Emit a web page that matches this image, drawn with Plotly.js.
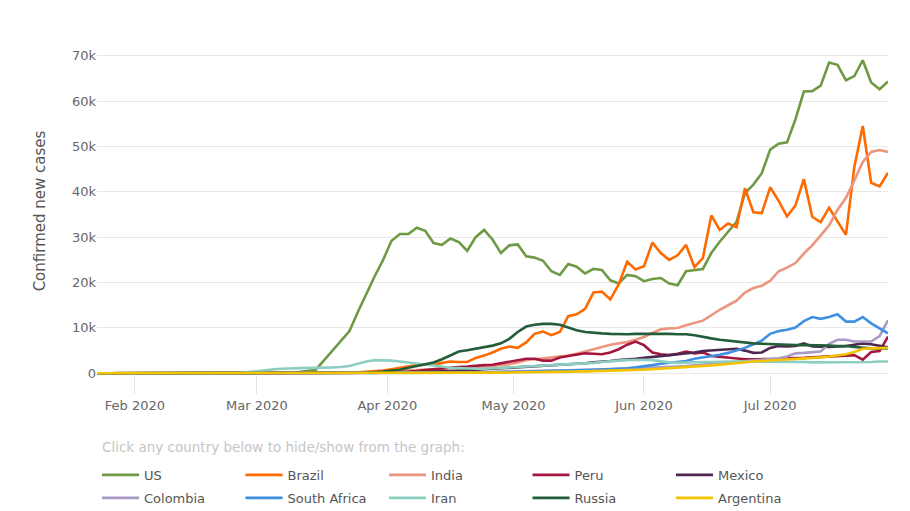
<!DOCTYPE html>
<html>
<head>
<meta charset="utf-8">
<script src="https://cdn.plot.ly/plotly-3.0.1.min.js"></script>
<style>
  html, body { margin: 0; padding: 0; background: #fff; }
  #chart { width: 910px; height: 511px; }
</style>
</head>
<body>
<div id="chart"></div>
<script>
// Dates (every 2nd day, 2020)
const dates = [
  '01-23','01-25','01-27','01-29','01-31','02-02','02-04','02-06','02-08','02-10',
  '02-12','02-14','02-16','02-18','02-20','02-22','02-24','02-26','02-28','03-01',
  '03-03','03-05','03-07','03-09','03-11','03-13','03-15','03-17','03-19','03-21',
  '03-23','03-25','03-27','03-29','03-31','04-02','04-04','04-06','04-08','04-10',
  '04-12','04-14','04-16','04-18','04-20','04-22','04-24','04-26','04-28','04-30',
  '05-02','05-04','05-06','05-08','05-10','05-12','05-14','05-16','05-18','05-20',
  '05-22','05-24','05-26','05-28','05-30','06-01','06-03','06-05','06-07','06-09',
  '06-11','06-13','06-15','06-17','06-19','06-21','06-23','06-25','06-27','06-29',
  '07-01','07-03','07-05','07-07','07-09','07-11','07-13','07-15','07-17','07-19',
  '07-21','07-23','07-25','07-27','07-29'
].map(d => '2020-' + d);

// Confirmed new cases, in thousands
const us = [
  0,0,0,0,0,0,0,0,0,0,
  0,0,0,0,0,0,0,0,0,0.01,
  0.03,0.05,0.1,0.15,0.3,0.5,0.8,2.9,5.1,7.1,
  9.3,13.5,17.5,21.4,25.0,29.2,30.7,30.7,32.1,31.4,
  28.7,28.3,29.7,28.9,27.0,30.0,31.6,29.5,26.5,28.2,
  28.4,25.8,25.5,24.8,22.5,21.7,24.1,23.5,22.0,23.0,
  22.8,20.5,19.8,21.7,21.4,20.3,20.8,21.0,19.8,19.4,
  22.5,22.8,23.0,26.5,29.0,31.2,33.4,39.7,41.6,44.1,
  49.3,50.6,50.9,56.0,62.1,62.2,63.4,68.5,68.0,64.6,
  65.5,69.0,64.1,62.6,64.3
];
const brazil = [
  0,0,0,0,0,0,0,0,0,0,
  0,0,0,0,0,0,0,0,0,0,
  0,0,0,0,0,0,0.02,0.04,0.06,0.1,
  0.15,0.2,0.3,0.4,0.6,0.9,1.2,1.5,1.8,1.9,
  1.9,2.3,2.6,2.5,2.5,3.4,3.9,4.6,5.4,5.9,
  5.6,6.8,8.7,9.2,8.4,9.1,12.6,13.0,14.2,17.8,
  18.0,16.3,19.6,24.6,22.9,23.6,28.8,26.5,25.0,26.0,
  28.3,23.4,25.4,34.8,31.6,33.0,32.2,40.8,35.5,35.3,
  41.0,38.0,34.6,37.0,42.8,34.5,33.3,36.5,33.5,30.5,
  45.5,54.5,42.0,41.2,44.2
];
const india = [
  0,0,0,0,0,0,0,0,0,0,
  0,0,0,0,0,0,0,0,0,0,
  0,0,0,0,0,0,0,0,0.02,0.03,
  0.05,0.08,0.12,0.2,0.3,0.4,0.5,0.6,0.7,0.8,
  0.85,0.9,1.0,1.1,1.2,1.3,1.45,1.6,1.8,2.0,
  2.4,2.9,3.1,3.3,3.5,3.6,3.9,4.3,4.8,5.3,
  5.8,6.3,6.6,6.9,7.4,8.0,8.9,9.7,9.9,10.0,
  10.6,11.1,11.6,12.8,14.0,15.0,16.0,17.8,18.8,19.3,
  20.4,22.5,23.3,24.3,26.4,28.2,30.3,32.6,36.0,38.7,
  42.5,46.6,48.8,49.2,48.8
];
const peru = [
  0,0,0,0,0,0,0,0,0,0,
  0,0,0,0,0,0,0,0,0,0,
  0,0,0,0,0,0,0,0,0,0,
  0.05,0.06,0.08,0.1,0.12,0.15,0.2,0.3,0.5,0.7,
  0.9,1.1,1.3,1.4,1.5,1.7,1.8,1.9,2.2,2.6,
  2.8,3.2,3.2,2.8,2.8,3.5,3.8,4.1,4.4,4.3,
  4.2,4.6,5.3,6.3,7.0,6.2,4.6,4.2,4.0,4.3,
  4.8,4.4,4.6,3.8,3.6,3.4,3.2,3.1,3.1,3.1,
  3.2,3.2,3.3,3.3,3.4,3.5,3.6,3.7,3.8,3.9,
  4.0,3.0,4.7,4.9,8.1
];
const mexico = [
  0,0,0,0,0,0,0,0,0,0,
  0,0,0,0,0,0,0,0,0,0,
  0,0,0,0,0,0,0,0,0,0,
  0.03,0.04,0.05,0.06,0.08,0.1,0.15,0.2,0.3,0.35,
  0.4,0.45,0.5,0.55,0.7,0.8,0.9,1.0,1.1,1.2,
  1.3,1.4,1.5,1.6,1.7,1.8,2.0,2.1,2.2,2.4,
  2.5,2.7,2.9,3.0,3.2,3.4,3.6,3.8,4.0,4.1,
  4.3,4.6,4.9,5.0,5.1,5.3,5.4,5.0,4.5,4.6,
  5.6,6.0,5.9,6.0,6.6,5.9,5.8,5.8,5.9,6.0,
  6.3,6.6,6.4,6.0,5.7
];
const colombia = [
  0,0,0,0,0,0,0,0,0,0,
  0,0,0,0,0,0,0,0,0,0,
  0,0,0,0,0,0,0,0,0,0,
  0,0,0,0,0.04,0.05,0.06,0.07,0.08,0.09,
  0.1,0.11,0.12,0.14,0.17,0.2,0.22,0.25,0.28,0.32,
  0.35,0.38,0.42,0.45,0.48,0.5,0.55,0.6,0.65,0.72,
  0.8,0.86,0.92,0.98,1.05,1.1,1.2,1.3,1.4,1.5,
  1.6,1.75,1.9,2.0,2.15,2.3,2.45,2.6,2.75,2.9,
  3.1,3.3,3.7,4.4,4.5,4.6,4.8,6.5,7.4,7.4,
  7.0,7.0,7.0,8.2,11.7
];
const southAfrica = [
  0,0,0,0,0,0,0,0,0,0,
  0,0,0,0,0,0,0,0,0,0,
  0,0,0,0,0,0,0,0,0,0,
  0,0,0,0.03,0.04,0.05,0.06,0.07,0.08,0.09,
  0.1,0.1,0.11,0.12,0.14,0.15,0.17,0.2,0.23,0.27,
  0.3,0.33,0.37,0.4,0.45,0.5,0.55,0.6,0.7,0.75,
  0.8,0.9,1.0,1.1,1.3,1.5,1.8,2.1,2.3,2.5,
  2.7,3.2,3.5,3.7,4.1,4.5,5.0,5.6,6.4,7.2,
  8.7,9.3,9.6,10.1,11.5,12.4,12.0,12.4,13.0,11.4,
  11.4,12.4,11.0,9.9,8.8
];
const iran = [
  0,0,0,0,0,0,0,0,0,0,
  0,0,0,0,0,0,0.02,0.1,0.25,0.5,
  0.8,0.9,1.0,1.1,1.1,1.2,1.2,1.2,1.3,1.4,
  1.6,2.1,2.6,2.9,2.9,2.8,2.6,2.4,2.2,1.9,
  1.7,1.5,1.2,1.1,1.0,1.0,1.0,1.1,1.2,1.3,
  1.3,1.4,1.5,1.6,1.7,1.8,1.9,2.0,2.1,2.3,
  2.5,2.7,2.8,2.9,3.0,3.0,2.9,2.6,2.4,2.3,
  2.4,2.5,2.5,2.5,2.6,2.6,2.6,2.6,2.5,2.5,
  2.5,2.5,2.6,2.5,2.5,2.4,2.4,2.4,2.4,2.5,
  2.5,2.5,2.5,2.6,2.6
];
const russia = [
  0,0,0,0,0,0,0,0,0,0,
  0,0,0,0,0,0,0,0,0,0,
  0,0,0,0,0,0,0,0,0,0,
  0.05,0.08,0.12,0.2,0.4,0.6,0.8,1.2,1.6,1.9,
  2.4,3.1,4.0,4.8,5.1,5.4,5.7,6.1,6.6,7.6,
  9.1,10.3,10.7,10.9,10.9,10.7,10.1,9.5,9.1,8.9,
  8.8,8.7,8.6,8.6,8.7,8.7,8.8,8.8,8.7,8.6,
  8.6,8.4,8.0,7.7,7.4,7.2,6.9,6.7,6.6,6.5,
  6.4,6.4,6.3,6.2,6.2,6.2,6.1,6.1,6.0,6.0,
  5.8,5.6,5.5,5.5,5.5
];
const argentina = [
  0,0,0,0,0,0,0,0,0,0,
  0,0,0,0,0,0,0,0,0,0,
  0,0,0,0,0,0,0,0,0,0,
  0,0,0,0,0,0,0.05,0.07,0.08,0.09,
  0.1,0.1,0.1,0.1,0.11,0.12,0.13,0.14,0.15,0.17,
  0.18,0.2,0.22,0.25,0.27,0.3,0.35,0.4,0.43,0.47,
  0.5,0.58,0.63,0.7,0.75,0.8,0.9,1.0,1.1,1.2,
  1.3,1.45,1.6,1.75,1.9,2.1,2.3,2.45,2.6,2.7,
  2.8,2.9,3.0,3.1,3.2,3.3,3.5,3.7,3.9,4.2,
  4.7,5.4,5.5,5.5,5.6
];

const countries = ['US','Brazil','India','Peru','Mexico','Colombia','South Africa','Iran','Russia','Argentina'];
const seriesValues = [us, brazil, india, peru, mexico, colombia, southAfrica, iran, russia, argentina];
const colors = ['#6f9a45','#ff6a00','#ec957f','#a3173e','#4f2650','#a99bc3','#3f90e3','#8ccfc0','#225c39','#f3c300'];
const legendNote = 'Click any country below to hide/show from the graph:';

const FONT = 'DejaVu Sans, Verdana, sans-serif';

const traces = countries.map((name, i) => ({
  type: 'scatter',
  mode: 'lines',
  name: name,
  legend: i < 5 ? 'legend' : 'legend2',
  x: dates,
  y: seriesValues[i].map(v => v * 1000),
  line: { color: colors[i], width: 2.6 },
  hovertemplate: '%{y:,.0f}<extra>' + name + '</extra>'
}));

const legendBase = {
  orientation: 'h',
  x: 0,
  xanchor: 'left',
  yanchor: 'top',
  itemwidth: 37,
  entrywidth: 91.5,
  entrywidthmode: 'pixels',
  font: { family: FONT, size: 13, color: '#555555' },
  bgcolor: 'rgba(0,0,0,0)'
};

const layout = {
  width: 910,
  height: 511,
  paper_bgcolor: '#ffffff',
  plot_bgcolor: '#ffffff',
  font: { family: FONT, size: 13, color: '#666666' },
  margin: { l: 97, r: 22, t: 47, b: 136, autoexpand: false },
  showlegend: true,
  xaxis: {
    type: 'date',
    range: ['2020-01-23', '2020-07-29'],
    dtick: 'M1',
    tick0: '2020-02-01',
    tickformat: '%b %Y',
    showgrid: false,
    zeroline: false,
    showline: false,
    ticks: 'outside',
    ticklen: 18,
    tickwidth: 1,
    tickcolor: '#e4e4e4',
    tickfont: { family: FONT, size: 13, color: '#666666' }
  },
  yaxis: {
    range: [-375, 71920],
    dtick: 10000,
    tickformat: '~s',
    showgrid: true,
    gridcolor: '#e8e8e8',
    gridwidth: 1,
    zeroline: false,
    showline: false,
    ticks: '',
    tickfont: { family: FONT, size: 13, color: '#666666' },
    title: { text: 'Confirmed new cases', font: { family: FONT, size: 15, color: '#555555' }, standoff: 22 }
  },
  legend: Object.assign({}, legendBase, { y: -0.259 }),
  legend2: Object.assign({}, legendBase, { y: -0.329 }),
  annotations: [{
    text: legendNote,
    xref: 'paper', yref: 'paper',
    x: 0.004, y: -0.2195,
    xanchor: 'left', yanchor: 'middle',
    showarrow: false,
    font: { family: FONT, size: 13.5, color: '#c6c6c6' }
  }]
};

Plotly.newPlot('chart', traces, layout, { displayModeBar: false, responsive: false });
</script>
</body>
</html>
